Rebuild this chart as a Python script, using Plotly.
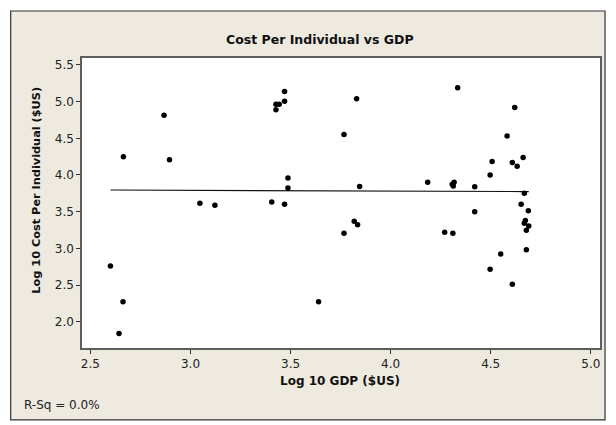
import numpy as np
import plotly.graph_objects as go

# Data (Log10 GDP vs Log10 cost per individual)
log_gdp = [2.60, 2.663, 2.643, 2.665, 2.868, 2.895, 3.047, 3.122, 3.406, 3.47,
           3.427, 3.443, 3.47, 3.427, 3.83, 4.335, 3.767, 3.487, 3.487, 3.845,
           4.185, 4.317, 4.308, 4.313, 3.47, 3.767, 3.818, 3.835, 4.27, 4.311,
           3.64, 4.62, 4.582, 4.662, 4.507, 4.608, 4.632, 4.497, 4.42, 4.668,
           4.652, 4.688, 4.42, 4.673, 4.668, 4.69, 4.678, 4.678, 4.55, 4.497,
           4.608]
log_cost = [2.76, 2.27, 1.84, 4.25, 4.816, 4.206, 3.615, 3.588, 3.633, 5.138,
            4.966, 4.966, 5.007, 4.888, 5.038, 5.188, 4.551, 3.96, 3.824, 3.842,
            3.902, 3.902, 3.875, 3.851, 3.60, 3.206, 3.37, 3.323, 3.22, 3.206,
            2.27, 4.92, 4.533, 4.237, 4.183, 4.169, 4.12, 4.0, 3.838, 3.752,
            3.60, 3.514, 3.497, 3.378, 3.342, 3.306, 3.247, 2.982, 2.924, 2.715,
            2.51]

x_ticks = [2.5, 3.0, 3.5, 4.0, 4.5, 5.0]
y_ticks = [2.0, 2.5, 3.0, 3.5, 4.0, 4.5, 5.0, 5.5]

title_text = "Cost Per Individual vs GDP"
x_title = "Log 10 GDP ($US)"
y_title = "Log 10 Cost Per Individual ($US)"
rsq_text = "R-Sq = 0.0%"

# Least-squares fit line drawn over the data range
xa = np.array(log_gdp)
ya = np.array(log_cost)
slope, intercept = np.polyfit(xa, ya, 1)
fit_x = np.array([xa.min(), xa.max()])
fit_y = slope * fit_x + intercept

FONT = "DejaVu Sans"
BG = "#EEEAE0"

fig = go.Figure()
fig.add_trace(go.Scatter(x=fit_x, y=fit_y, mode="lines",
                         line=dict(color="#111111", width=1.2),
                         hoverinfo="skip", showlegend=False))
fig.add_trace(go.Scatter(x=log_gdp, y=log_cost, mode="markers",
                         marker=dict(color="black", size=5.5),
                         showlegend=False))

axis_common = dict(showgrid=False, zeroline=False, ticks="outside", ticklen=4,
                   tickwidth=1, tickcolor="#333333", showline=True,
                   linecolor="#5e5e5e", linewidth=1.5, mirror=True,
                   tickfont=dict(family=FONT, size=12, color="#222222"))

fig.update_xaxes(range=[2.458, 5.046], tickvals=x_ticks,
                 ticktext=[f"{v:.1f}" for v in x_ticks], **axis_common)
fig.update_yaxes(range=[1.641, 5.595], tickvals=y_ticks,
                 ticktext=[f"{v:.1f}" for v in y_ticks], **axis_common)

# frame (paper coords relative to plot area)
FX0, FX1, FY0, FY1 = -0.1377, 1.0097, -0.248, 1.162
white_strips = [
    dict(x0=-1, x1=FX0, y0=-1, y1=2),
    dict(x0=FX1, x1=2, y0=-1, y1=2),
    dict(x0=-1, x1=2, y0=FY1, y1=2),
    dict(x0=-1, x1=2, y0=-1, y1=FY0),
]
shapes = [dict(type="rect", xref="paper", yref="paper", fillcolor="white",
               line=dict(width=0), layer="above", **s) for s in white_strips]
shapes.append(dict(type="rect", xref="paper", yref="paper",
                   x0=FX0, x1=FX1, y0=FY0, y1=FY1,
                   line=dict(color="#333333", width=1.2), layer="above"))

fig.update_layout(
    width=608, height=417,
    margin=dict(l=74, r=16, t=50, b=77),
    paper_bgcolor=BG, plot_bgcolor="white",
    font=dict(family=FONT),
    shapes=shapes,
    annotations=[
        dict(text=f"<b>{title_text}</b>", xref="paper", yref="paper",
             x=0.46, y=1.0655, xanchor="center", yanchor="middle",
             showarrow=False, font=dict(family=FONT, size=12.5, color="#111111")),
        dict(text=f"<b>{x_title}</b>", xref="paper", yref="paper",
             x=0.498, y=-0.114, xanchor="center", yanchor="middle",
             showarrow=False, font=dict(family=FONT, size=12, color="#111111")),
        dict(text=f"<b>{y_title}</b>", xref="paper", yref="paper",
             x=-0.0875, y=0.545, xanchor="center", yanchor="middle",
             textangle=-90, showarrow=False,
             font=dict(family=FONT, size=11.3, color="#111111")),
        dict(text=rsq_text, xref="paper", yref="paper",
             x=-0.1165, y=-0.197, xanchor="left", yanchor="middle",
             showarrow=False, font=dict(family=FONT, size=12, color="#222222")),
    ],
)

fig.write_html("out.html")
